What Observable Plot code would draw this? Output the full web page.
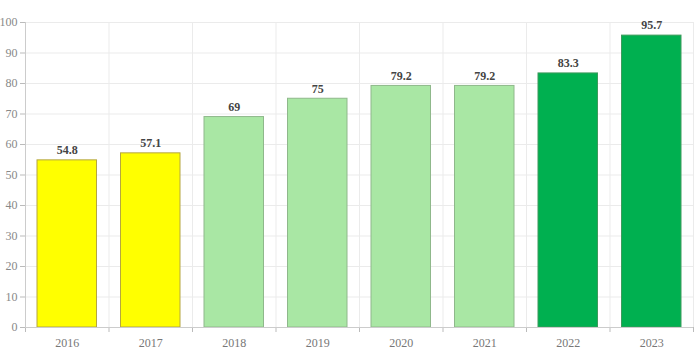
<!DOCTYPE html>
<html>
<head>
<meta charset="utf-8">
<script src="https://cdn.jsdelivr.net/npm/d3@7"></script>
<script src="https://cdn.jsdelivr.net/npm/@observablehq/plot@0.6"></script>
<style>
body { margin: 0; background: #fff; }
#chart svg { display: block; }
</style>
</head>
<body>
<div id="chart"></div>
<script>
const years = ["2016", "2017", "2018", "2019", "2020", "2021", "2022", "2023"];
const values = [54.8, 57.1, 69, 75, 79.2, 79.2, 83.3, 95.7];
const groups = ["low", "low", "mid", "mid", "mid", "mid", "high", "high"];
const yTicks = [0, 10, 20, 30, 40, 50, 60, 70, 80, 90, 100];

const fills = {low: "#ffff00", mid: "#a9e7a4", high: "#00b050"};
const strokes = {low: "#b5a640", mid: "#8fb88b", high: "#3d9a5c"};

const data = years.map((y, i) => ({year: y, i, value: values[i], group: groups[i]}));
const bounds = d3.range(years.length + 1);
const mids = years.map((y, i) => i + 0.5);

const chart = Plot.plot({
  width: 700,
  height: 361,
  marginLeft: 25,
  marginRight: 7,
  marginTop: 22,
  marginBottom: 34,
  style: {fontFamily: "'Liberation Serif', serif", fontSize: "11px", background: "#fff"},
  x: {type: "linear", domain: [0, years.length], axis: null, label: null},
  y: {domain: [0, 100], axis: null, label: null},
  marks: [
    Plot.ruleY(yTicks, {stroke: "#ebebeb"}),
    Plot.ruleX(bounds, {stroke: "#ebebeb"}),
    Plot.rectY(data, {
      x1: "i", x2: d => d.i + 1, y: "value",
      insetLeft: 12, insetRight: 12,
      fill: d => fills[d.group], stroke: d => strokes[d.group], strokeWidth: 1
    }),
    Plot.text(data, {
      x: d => d.i + 0.5, y: "value", text: d => String(d.value),
      dy: -10, fontWeight: "bold", fill: "#444", fontSize: 12
    }),
    Plot.axisX(bounds, {tickSize: 5, text: null, stroke: "#bbb", label: null}),
    Plot.axisX(mids, {tickSize: 0, tickPadding: 11, tickFormat: (d, k) => years[k], fill: "#777", fontSize: 12, label: null}),
    Plot.axisY(yTicks, {tickSize: 5, tickPadding: 3, stroke: "#bbb", fill: "#888", fontSize: 12, label: null}),
    Plot.ruleX([0], {stroke: "#ccc"}),
    Plot.ruleY([0], {stroke: "#ccc"})
  ]
});
document.getElementById("chart").appendChild(chart);
</script>
</body>
</html>
